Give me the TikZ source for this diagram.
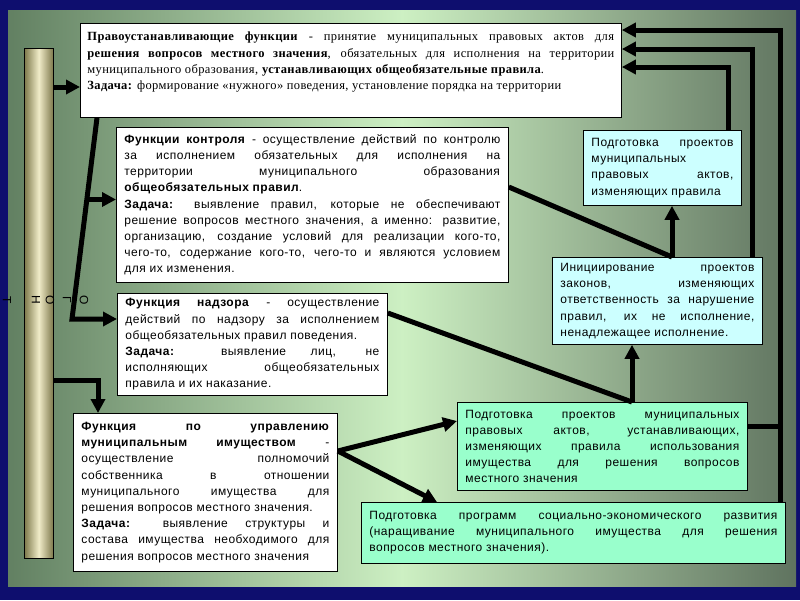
\documentclass[tikz,border=0pt]{standalone}
\usepackage{fontspec}
\setmainfont{Liberation Serif}[LetterSpace=3]
\newfontfamily\boxsans{Liberation Sans}[LetterSpace=4]
\usetikzlibrary{arrows.meta,calc,positioning}

\definecolor{navybg}{RGB}{14,14,110}
\definecolor{panelleft}{RGB}{98,128,98}
\definecolor{panelmid}{RGB}{205,240,195}
\definecolor{panelright}{RGB}{95,115,95}
\definecolor{pillarlight}{RGB}{240,236,200}
\definecolor{pillardark}{RGB}{125,120,75}
\definecolor{cyanbox}{RGB}{204,255,255}
\definecolor{mintbox}{RGB}{153,255,204}

\tolerance=10000 \hbadness=10000 \hyphenpenalty=10000 \exhyphenpenalty=10000

\begin{document}
\begin{tikzpicture}[x=1pt,y=-1pt,
  box/.style={draw=black, line width=0.8pt, anchor=north west, align=justify,
    inner xsep=8pt, inner ysep=0pt, font=\boxsans\fontsize{12}{16.2}\selectfont},
  conn/.style={line width=5pt},
  arr/.style={conn, -{Triangle[length=14pt,width=14pt]}},
  letter/.style={rotate=-90, inner sep=0pt, font=\boxsans\fontsize{12}{12}\selectfont}]

% background
\fill[navybg] (0,0) rectangle (800,600);
\shade[left color=panelleft, right color=panelright, middle color=panelmid] (8,10) rectangle (796,586);
\useasboundingbox (0,0) rectangle (800,600);

% pillar
\node[draw, line width=0.6pt, left color=pillardark, right color=pillardark, middle color=pillarlight,
  minimum width=29pt, minimum height=510pt, anchor=north west, inner sep=0pt] (pillar) at (24,48) {};
\foreach \ch/\x [count=\i] in {Т/7,Н/36,О/50,Г/67,О/84}
  \node[letter] (let\i) at (\x,300) {\ch};

% boxes
\node[box, fill=white, text width=527pt, inner xsep=7pt, minimum height=94pt,
  font=\rmfamily\fontsize{12.5}{16.3}\selectfont] (A) at (80,23)
  {\textbf{Правоустанавливающие функции} - принятие муниципальных правовых актов для\linebreak
   \textbf{решения вопросов местного значения}, обязательных для исполнения на территории\linebreak
   муниципального образования, \textbf{устанавливающих общеобязательные правила}.\par
   \textbf{Задача:} формирование «нужного» поведения, установление порядка на территории\par
   \rule{0pt}{15pt}};
\node[box, fill=white, text width=376pt, minimum height=155pt] (B) at (116,127)
  {\textbf{Функции контроля} - осуществление действий по контролю\linebreak
   за исполнением обязательных для исполнения на\linebreak
   территории муниципального образования\linebreak
   \textbf{общеобязательных правил}.\par
   \textbf{Задача:} выявление правил, которые не обеспечивают\linebreak
   решение вопросов местного значения, а именно: развитие,\linebreak
   организацию, создание условий для реализации кого-то,\linebreak
   чего-то, содержание кого-то, чего-то и являются условием\linebreak
   для их изменения.};
\node[box, fill=white, text width=254pt, minimum height=102pt] (C) at (117,293)
  {\textbf{Функция надзора} - осуществление\linebreak
   действий по надзору за исполнением\linebreak
   общеобязательных правил поведения.\par
   \textbf{Задача:} выявление лиц, не\linebreak
   исполняющих общеобязательных\linebreak
   правила и их наказание.};
\node[box, fill=white, text width=248pt, minimum height=158pt] (D) at (73,413)
  {\textbf{Функция по управлению}\linebreak
   \textbf{муниципальным имуществом} -\linebreak
   осуществление полномочий\linebreak
   собственника в отношении\linebreak
   муниципального имущества для\linebreak
   решения вопросов местного значения.\par
   \textbf{Задача:} выявление структуры и\linebreak
   состава имущества необходимого для\linebreak
   решения вопросов местного значения};
\node[box, fill=cyanbox, text width=142pt, minimum height=75pt] (E) at (583,130)
  {Подготовка проектов\linebreak
   муниципальных\linebreak
   правовых актов,\linebreak
   изменяющих правила};
\node[box, fill=cyanbox, text width=194pt, minimum height=87pt] (F) at (552,257)
  {Инициирование проектов\linebreak
   законов, изменяющих\linebreak
   ответственность за нарушение\linebreak
   правил, их не исполнение,\linebreak
   ненадлежащее исполнение.};
\node[box, fill=mintbox, text width=274pt, minimum height=88pt] (G) at (457,402)
  {Подготовка проектов муниципальных\linebreak
   правовых актов, устанавливающих,\linebreak
   изменяющих правила использования\linebreak
   имущества для решения вопросов\linebreak
   местного значения};
\node[box, fill=mintbox, text width=408pt, minimum height=61pt] (H) at (361,502)
  {Подготовка программ социально-экономического развития\linebreak
   (наращивание муниципального имущества для решения\linebreak
   вопросов местного значения).};

% left side
\coordinate (aL) at ([yshift=-64pt]A.north west);
\draw[arr] (pillar.east |- aL) -- (aL);
\coordinate (aD) at ([xshift=17pt]A.south west);
\coordinate (cK) at ([xshift=-45pt,yshift=-26pt]C.north west);
\path (aD) -- (cK) coordinate[pos=0.406] (bK);
\draw[arr] (aD) -- (cK) -- (C.west |- cK);
\draw[arr] (bK) -- (B.west |- bK);
\coordinate (dT) at ([xshift=25pt,yshift=33pt]D.north west);
\draw[arr] (pillar.east |- dT) -- (dT) -- (D.north west -| dT);

% from property box
\coordinate (dR) at ([yshift=-38pt]D.north east);
\draw[arr] (dR) -- ([yshift=-19pt]G.north west);
\draw[arr] (dR) -- ([xshift=76pt]H.north west);

% middle joins
\coordinate (gK) at ([xshift=175pt]G.north west);
\draw[conn] ([yshift=-20pt]C.north east) -- (gK);
\draw[arr] (gK) -- (F.south -| gK);
\coordinate (fK) at ([xshift=120pt]F.north west);
\draw[conn] ([yshift=-60pt]B.north east) -- (fK);
\draw[arr] (fK) -- (E.south -| fK);

% back to the top box
\draw[arr] ([xshift=145pt]E.north west) |- ([yshift=-44pt]A.north east);
\draw[arr] ([xshift=200pt]F.north west) |- ([yshift=-26pt]A.north east);
\coordinate (hK) at ([xshift=-5pt]H.north east);
\draw[arr] (hK) |- ([yshift=-7pt]A.north east);
\coordinate (gR) at ([yshift=-24pt]G.north east);
\draw[conn] (gR) -- (gR -| hK);
\end{tikzpicture}
\end{document}
